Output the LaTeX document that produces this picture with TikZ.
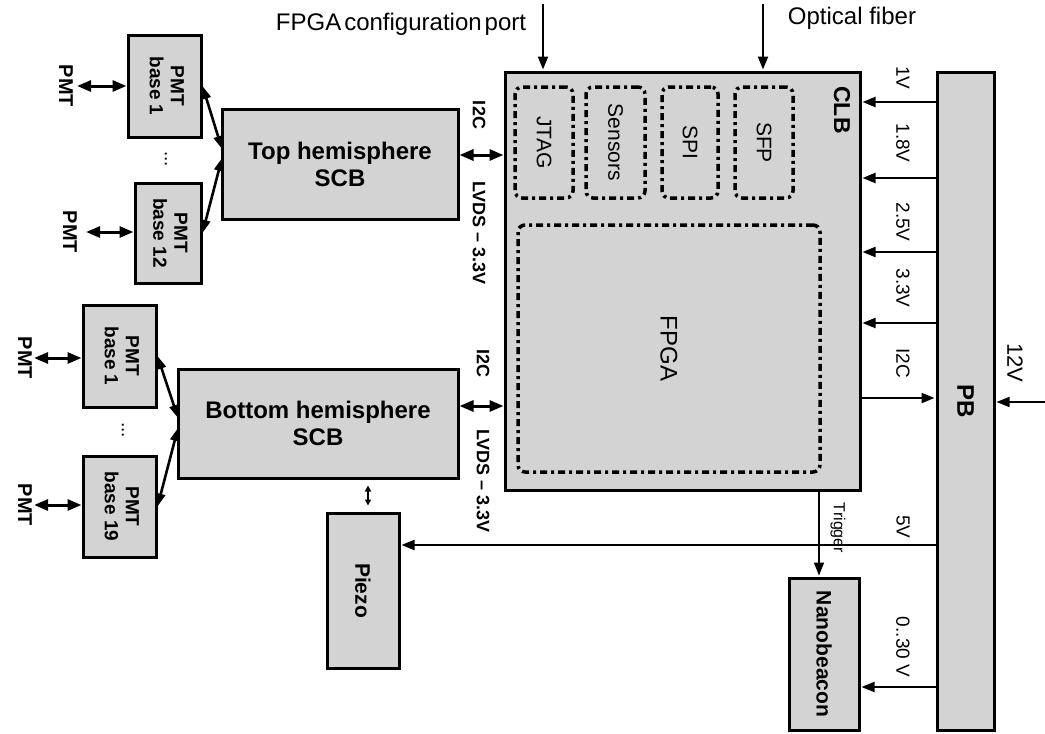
\documentclass[tikz,border=0pt]{standalone}
\usepackage{fontspec}
\setmainfont{Liberation Sans}
\usetikzlibrary{arrows.meta}
\definecolor{boxgray}{RGB}{211,211,211}
\newcommand{\rot}[1]{\rotatebox[origin=c]{-90}{#1}}
\newcommand{\twoline}[2]{\begin{tabular}{@{}c@{}}#1\\#2\end{tabular}}
\tikzset{
  box/.style={draw=black, fill=boxgray, line width=3pt, inner sep=0pt},
  dotbox/.style={draw=black, line width=3.5pt, rounded corners=7pt,
    dash pattern=on 7pt off 4pt on 3pt off 4pt, inner sep=0pt},
  pmtbox/.style={box, font=\bfseries\fontsize{19}{21}\selectfont},
  bigbold/.style={font=\bfseries\fontsize{24}{27}\selectfont, align=center},
  lblb/.style={inner sep=0pt, font=\bfseries\fontsize{18}{21}\selectfont},
  lblr/.style={inner sep=0pt, font=\fontsize{19}{21}\selectfont},
  arr/.style={line width=2.2pt, -{Triangle[length=13pt,width=10pt]}, shorten >=1pt},
  dbl/.style={line width=3pt, {Triangle[length=14pt,width=11pt]}-{Triangle[length=14pt,width=11pt]}},
  fan/.style={line width=2.6pt, {Triangle[length=13pt,width=9pt]}-{Triangle[length=13pt,width=9pt]}},
}
\begin{document}
\begin{tikzpicture}[x=1pt,y=-1pt]
\useasboundingbox (0,0) rectangle (1045,734);

% PMT base boxes
\node[pmtbox, minimum width=73pt, minimum height=102pt] (pmtb1t) at (164.5,86) {\rot{\twoline{PMT}{base 1}}};
\node[pmtbox, minimum width=66pt, minimum height=100pt] (pmtb12) at (168,233) {\rot{\twoline{PMT}{base 12}}};
\node[pmtbox, minimum width=73pt, minimum height=102pt] (pmtb1b) at (119.5,356) {\rot{\twoline{PMT}{base 1}}};
\node[pmtbox, minimum width=73pt, minimum height=101pt] (pmtb19) at (119.5,506.5) {\rot{\twoline{PMT}{base 19}}};

% dots
\node[inner sep=0pt, font=\fontsize{19}{21}\selectfont] (dotst) at (166,159) {\rot{...}};
\node[inner sep=0pt, font=\fontsize{19}{21}\selectfont] (dotsb) at (123,430) {\rot{...}};

% PMT labels
\node[inner sep=0pt, font=\bfseries\fontsize{20}{22}\selectfont] (pmtl1) at (66,86) {\rot{PMT}};
\node[inner sep=0pt, font=\bfseries\fontsize{20}{22}\selectfont] (pmtl2) at (70,232) {\rot{PMT}};
\node[inner sep=0pt, font=\bfseries\fontsize{20}{22}\selectfont] (pmtl3) at (25,358) {\rot{PMT}};
\node[inner sep=0pt, font=\bfseries\fontsize{20}{22}\selectfont] (pmtl4) at (25,505) {\rot{PMT}};

% SCBs
\node[box, bigbold, minimum width=236pt, minimum height=110pt] (topscb) at (340,164) {Top hemisphere\\SCB};
\node[box, bigbold, minimum width=280pt, minimum height=109pt] (botscb) at (318,423.5) {Bottom hemisphere\\SCB};

% CLB
\node[box, minimum width=355pt, minimum height=418pt] (clb) at (682.5,281) {};
\node[inner sep=0pt, font=\bfseries\fontsize{23}{25}\selectfont] (clbl) at (842,110) {\rot{CLB}};
\node[dotbox, minimum width=58pt, minimum height=111pt, font=\fontsize{21}{23}\selectfont] (jtag) at (544,142.5) {\rot{JTAG}};
\node[dotbox, minimum width=59pt, minimum height=111pt, font=\fontsize{21}{23}\selectfont] (sensors) at (615.5,142.5) {\rot{Sensors}};
\node[dotbox, minimum width=56pt, minimum height=111pt, font=\fontsize{21}{23}\selectfont] (spi) at (690,142.5) {\rot{SPI}};
\node[dotbox, minimum width=58pt, minimum height=111pt, font=\fontsize{21}{23}\selectfont] (sfp) at (764,142.5) {\rot{SFP}};
\node[dotbox, minimum width=302pt, minimum height=247pt, font=\fontsize{24}{26}\selectfont] (fpga) at (669,348.5) {\rot{FPGA}};

% PB, Piezo, Nanobeacon
\node[box, minimum width=57pt, minimum height=658pt, font=\bfseries\fontsize{24}{26}\selectfont] (pb) at (965.5,401) {\rot{PB}};
\node[box, minimum width=72pt, minimum height=155pt, font=\bfseries\fontsize{21}{23}\selectfont] (piezo) at (363,590.5) {\rot{Piezo}};
\node[box, minimum width=70pt, minimum height=152pt, font=\bfseries\fontsize{21}{23}\selectfont] (nano) at (824,654) {\rot{Nanobeacon}};

% top inputs
\node[inner sep=0pt, font=\fontsize{24}{26}\selectfont] (cfgtxt) at (401,24) {FPGA\hspace{3pt}configuration\hspace{3pt}port};
\node[inner sep=0pt, font=\fontsize{24}{26}\selectfont] (opttxt) at (852,18) {Optical fiber};
\coordinate (cfgin) at (543,4);
\coordinate (optin) at (763,4);
\draw[arr] (cfgin) -- (cfgin |- clb.north);
\draw[arr] (optin) -- (optin |- clb.north);

% PMT arrows
\draw[dbl] ([xshift=4pt]pmtl1.east) -- (pmtl1.east -| pmtb1t.west);
\draw[dbl] ([xshift=9pt]pmtl2.east) -- (pmtl2.east -| pmtb12.west);
\draw[dbl] ([xshift=2pt]pmtl3.east) -- (pmtl3.east -| pmtb1b.west);
\draw[dbl] ([xshift=2pt]pmtl4.east) -- (pmtl4.east -| pmtb19.west);

% fan arrows
\coordinate (tf1) at (222,149);
\coordinate (tf2) at (222,158);
\draw[fan] (pmtb1t.east) -- (tf1);
\draw[fan] (tf2) -- (pmtb12.east);
\coordinate (bf1) at (178,418);
\coordinate (bf2) at (178,428);
\draw[fan] (pmtb1b.east) -- (bf1);
\draw[fan] (bf2) -- (pmtb19.east);

% I2C / LVDS links
\coordinate (i2ct) at (480,155);
\coordinate (i2cb) at (483,406);
\draw[dbl] (topscb.east |- i2ct) -- (clb.west |- i2ct);
\draw[dbl] (botscb.east |- i2cb) -- (clb.west |- i2cb);
\node[lblb] (i2ctl) at (479,115) {\rot{I2C}};
\node[lblb] (lvdstl) at (479,233) {\rot{LVDS \textendash{} 3.3V}};
\node[lblb] (i2cbl) at (483,363) {\rot{I2C}};
\node[lblb] (lvdsbl) at (483,481) {\rot{LVDS \textendash{} 3.3V}};

% Piezo link
\coordinate (pzx) at (368,0);
\draw[line width=1.5pt, {Triangle[length=6pt,width=6pt]}-{Triangle[length=6pt,width=6pt]}, shorten <=6pt, shorten >=6pt] (botscb.south -| pzx) -- (piezo.north -| pzx);

% PB voltage arrows
\foreach \yy in {102,178,252,323} {
  \draw[arr] (pb.west |- 0,\yy) -- (clb.east |- 0,\yy);
}
\draw[arr] (clb.east |- 0,398) -- (pb.west |- 0,398);
\node[lblr] (v1) at (903,78) {\rot{1V}};
\node[lblr] (v18) at (903,143) {\rot{1.8V}};
\node[lblr] (v25) at (903,222) {\rot{2.5V}};
\node[lblr] (v33) at (903,288) {\rot{3.3V}};
\node[lblr] (vi2c) at (903,363) {\rot{I2C}};

% 12V
\coordinate (in12) at (1045,402);
\draw[arr, line width=1.6pt] (in12) -- (pb.east |- in12);
\node[inner sep=0pt, font=\fontsize{22}{24}\selectfont] (v12) at (1015,363) {\rot{12V}};

% 5V to piezo
\draw[arr, line width=2pt] (pb.west |- 0,545) -- (piezo.east |- 0,545);
\node[lblr] (v5) at (903,527) {\rot{5V}};

% 0..30 V to nanobeacon
\draw[arr, line width=2pt] (pb.west |- 0,687) -- (nano.east |- 0,687);
\node[lblr] (v030) at (903,647) {\rot{0..30 V}};

% Trigger
\coordinate (trx) at (819,0);
\draw[arr, line width=1.5pt] (clb.south -| trx) -- (nano.north -| trx);
\node[inner sep=0pt, font=\fontsize{16}{18}\selectfont] (trig) at (838,528) {\rot{Trigger}};
\end{tikzpicture}
\end{document}
